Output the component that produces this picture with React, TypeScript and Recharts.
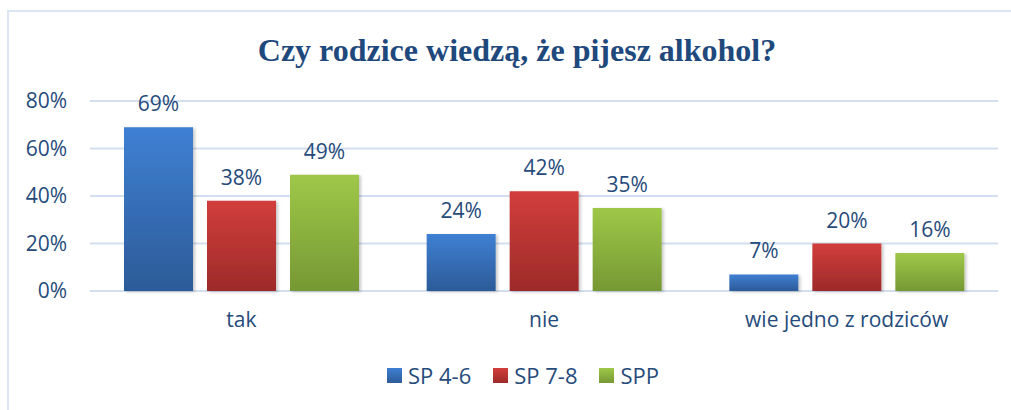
import { Bar, BarChart, CartesianGrid, LabelList, XAxis, YAxis } from 'recharts';

const categories = ['tak', 'nie', 'wie jedno z rodziców'];
const sp46 = [69, 24, 7];
const sp78 = [38, 42, 20];
const spp = [49, 35, 16];
const yTicks = [0, 20, 40, 60, 80];

const series = [
  { key: 'sp46', name: 'SP 4-6', values: sp46, top: '#3f80d3', bottom: '#2c5b98' },
  { key: 'sp78', name: 'SP 7-8', values: sp78, top: '#d23e3c', bottom: '#9d2a29' },
  { key: 'spp', name: 'SPP', values: spp, top: '#9fc848', bottom: '#769834' },
];

const textColor = '#264b7b';
const font = "'Open Sans', sans-serif";

const chartData = categories.map((name, i) => {
  const row: Record<string, string | number> = { name };
  series.forEach((s) => {
    row[s.key] = s.values[i];
  });
  return row;
});

export default function App() {
  return (
    <div style={{ position: 'fixed', left: 0, top: 0, width: 1011, height: 410, background: '#fff', overflow: 'hidden' }}>
      <div
        style={{
          position: 'absolute',
          left: 7,
          top: 10,
          width: 1020,
          height: 420,
          border: '2px solid #dbe5f4',
          boxSizing: 'border-box',
        }}
      />
      <div
        style={{
          position: 'absolute',
          left: 0,
          width: 1034,
          top: 31,
          textAlign: 'center',
          fontFamily: "'Liberation Serif', 'Times New Roman', serif",
          fontWeight: 700,
          fontSize: 32,
          color: '#1f497d',
          lineHeight: '38px',
        }}
      >
        Czy rodzice wiedzą, że pijesz alkohol?
      </div>
      <div style={{ position: 'absolute', left: 0, top: 0 }}>
        <BarChart
          width={1011}
          height={410}
          data={chartData}
          margin={{ top: 101, right: 13, bottom: 89, left: 0 }}
          barCategoryGap={34}
          barGap={14}
        >
          <defs>
            {series.map((s) => (
              <linearGradient key={s.key} id={`grad-${s.key}`} x1="0" y1="0" x2="0" y2="1">
                <stop offset="0%" stopColor={s.top} />
                <stop offset="100%" stopColor={s.bottom} />
              </linearGradient>
            ))}
            <filter id="shadow" x="-10%" y="-10%" width="130%" height="130%">
              <feDropShadow dx="2" dy="1" stdDeviation="1.5" floodColor="#000" floodOpacity="0.22" />
            </filter>
          </defs>
          <CartesianGrid vertical={false} stroke="#d3dff0" strokeWidth={2} />
          <XAxis
            dataKey="name"
            axisLine={false}
            tickLine={false}
            tickSize={0}
            tickMargin={21}
            tick={{ fill: textColor, fontSize: 21, fontFamily: font }}
          />
          <YAxis
            width={90}
            domain={[0, 80]}
            ticks={yTicks}
            axisLine={false}
            tickLine={false}
            tickSize={0}
            tickMargin={23}
            tickFormatter={(v: number) => `${v}%`}
            tick={{ fill: textColor, fontSize: 21, fontFamily: font }}
          />
          {series.map((s) => (
            <Bar
              key={s.key}
              dataKey={s.key}
              name={s.name}
              fill={`url(#grad-${s.key})`}
              filter="url(#shadow)"
              isAnimationActive={false}
            >
              <LabelList
                dataKey={s.key}
                position="top"
                offset={16}
                formatter={(v: number) => `${v}%`}
                style={{ fill: textColor, fontSize: 21, fontFamily: font }}
              />
            </Bar>
          ))}
        </BarChart>
      </div>
      <div
        style={{
          position: 'absolute',
          left: 0,
          width: 1046,
          top: 360,
          display: 'flex',
          justifyContent: 'center',
          alignItems: 'center',
          fontFamily: font,
          fontSize: 22,
          color: textColor,
        }}
      >
        {series.map((s) => (
          <div key={s.key} style={{ display: 'flex', alignItems: 'center', margin: '0 11px' }}>
            <span
              style={{
                display: 'inline-block',
                width: 15,
                height: 15,
                marginRight: 6,
                background: `linear-gradient(${s.top}, ${s.bottom})`,
              }}
            />
            <span>{s.name}</span>
          </div>
        ))}
      </div>
    </div>
  );
}
